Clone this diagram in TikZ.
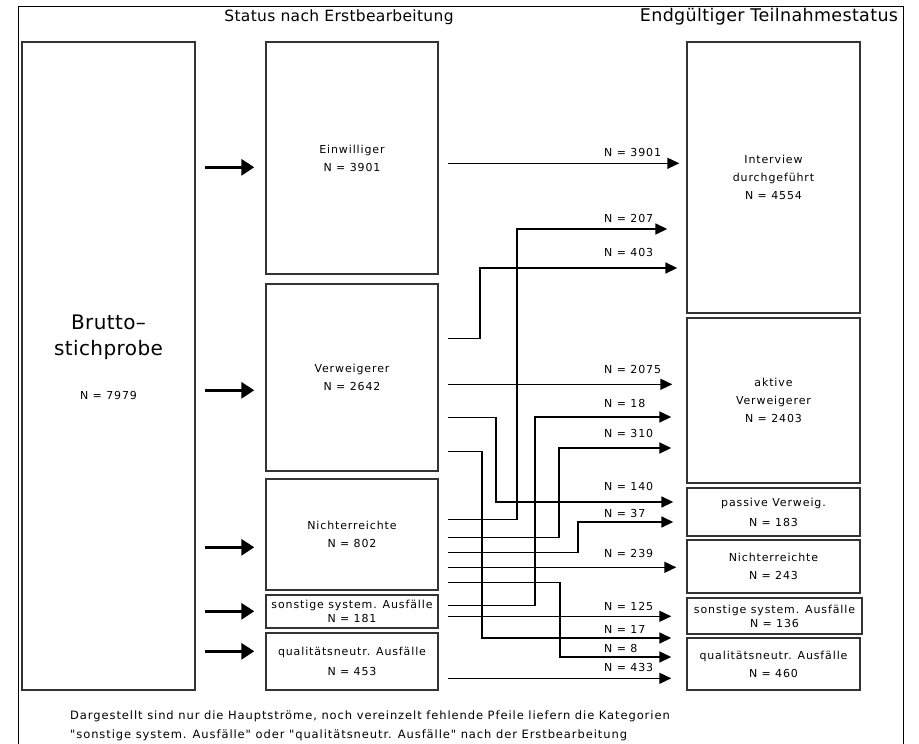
\documentclass[tikz,border=0pt]{standalone}
\usepackage{fontspec}
\setmainfont{DejaVu Sans}[LetterSpace=8, Ligatures=TeXOff]
\newfontfamily\headfont{DejaVu Sans}[LetterSpace=2, Ligatures=TeXOff]
\usetikzlibrary{calc,arrows.meta}

\tikzset{
  box/.style={draw=black!80, line width=1.4pt, inner sep=0pt, align=center,
    font=\fontsize{11}{18}\selectfont},
  head/.style={inner sep=0pt, font=\headfont\fontsize{15.5}{18}\selectfont},
  flow/.style={line width=1.6pt, -{Triangle[length=12pt,width=11pt]}},
  feed/.style={line width=3.5pt, -{Triangle[length=13pt,width=16pt]}},
  lbl/.style={anchor=west, inner sep=0pt, font=\fontsize{11}{13}\selectfont},
  note/.style={anchor=west, inner sep=0pt, align=left, font=\fontsize{11.5}{19}\selectfont},
}

\begin{document}
\begin{tikzpicture}[x=1pt, y=-1pt]
		%%%%% START %%%%%
		\useasboundingbox (0,0) rectangle (919,744);
		\draw[line width=1pt] (18,744) -- (18,6) -- (903,6) -- (903,744);
		
		\node[head] (hmid) at (339,17) {Status nach Erstbearbeitung};
		\node[head, font=\headfont\fontsize{17.5}{20}\selectfont] (hend) at (769,17) {Endgültiger Teilnahmestatus};
		
		% gross sample
		\node[box, minimum width=173pt, minimum height=648pt] (brutto) at (108.5,366) {};
		\node[align=center, inner sep=0pt, font=\headfont\fontsize{20}{26}\selectfont, yshift=9pt] (bruttotxt) at (brutto.center)
		  {Brutto–\\stichprobe\\[18pt]
		   {\normalfont\fontsize{11}{18}\selectfont N = 7979}};
		
		% status after first processing
		\node[box, minimum width=172pt, minimum height=232pt] (ein) at (352,158) {Einwilliger\\N = 3901};
		\node[box, minimum width=172pt, minimum height=187pt] (verw) at (352,377.5) {Verweigerer\\N = 2642};
		\node[box, minimum width=172pt, minimum height=111pt] (nie) at (352,534.5) {Nichterreichte\\N = 802};
		\node[box, minimum width=172pt, minimum height=33pt, font=\fontsize{11}{13.5}\selectfont] (son) at (352,611.5) {sonstige system. Ausfälle\\N = 181};
		\node[box, minimum width=172pt, minimum height=57pt, font=\fontsize{11}{20}\selectfont] (qual) at (352,661.5) {qualitätsneutr. Ausfälle\\N = 453};
		
		% final status
		\node[box, minimum width=173pt, minimum height=271pt] (int) at (773.5,177.5) {Interview\\durchgeführt\\N = 4554};
		\node[box, minimum width=173pt, minimum height=165pt] (akt) at (773.5,400.5) {aktive\\Verweigerer\\N = 2403};
		\node[box, minimum width=173pt, minimum height=48pt, font=\fontsize{11}{20}\selectfont] (pas) at (773.5,512) {passive Verweig.\\N = 183};
		\node[box, minimum width=173pt, minimum height=53pt] (nie2) at (773.5,566.5) {Nichterreichte\\N = 243};
		\node[box, minimum width=175pt, minimum height=36pt, font=\fontsize{11}{14}\selectfont] (son2) at (774.5,616) {sonstige system. Ausfälle\\N = 136};
		\node[box, minimum width=173pt, minimum height=52pt] (qual2) at (773.5,664) {qualitätsneutr. Ausfälle\\N = 460};
		
		%%%%% feeding arrows %%%%%
		\draw[feed, shorten >=11pt] ($(brutto.north east)+(9,126)$) coordinate (b1) -- (ein.west |- b1);
		\draw[feed, shorten >=11pt] ($(brutto.north east)+(9,349)$) coordinate (b2) -- (verw.west |- b2);
		\draw[feed, shorten >=11pt] ($(brutto.north east)+(9,506)$) coordinate (b3) -- (nie.west |- b3);
		\draw[feed, shorten >=11pt] ($(brutto.north east)+(9,570)$) coordinate (b4) -- (son.west |- b4);
		\draw[feed, shorten >=11pt] ($(brutto.north east)+(9,610)$) coordinate (b5) -- (qual.west |- b5);
		
		%%%%% flows %%%%%
		\draw[flow, shorten >=7pt] ($(ein.north east)+(9,122)$) coordinate (f1) -- (int.west |- f1);
		\draw[flow, shorten >=9pt] ($(verw.north east)+(9,55)$) -| (480,268) coordinate (f2) -- (int.west |- f2);
		\draw[flow, shorten >=19pt] ($(nie.north east)+(9,41)$) -| (517,229) coordinate (f3) -- (int.west |- f3);
		\draw[flow, shorten >=14pt] ($(verw.north east)+(9,101)$) coordinate (f4) -- (akt.west |- f4);
		\draw[flow, shorten >=15pt] ($(son.north east)+(9,11)$) -| (535,417) coordinate (f5) -- (akt.west |- f5);
		\draw[flow, shorten >=15pt] ($(nie.north east)+(9,59)$) -| (559,448) coordinate (f6) -- (akt.west |- f6);
		\draw[flow, shorten >=13pt] ($(verw.north east)+(9,134)$) -| (496,502) coordinate (f7) -- (pas.west |- f7);
		\draw[flow, shorten >=13pt] ($(nie.north east)+(9,74)$) -| (578,522) coordinate (f8) -- (pas.west |- f8);
		\draw[flow, shorten >=10pt] ($(nie.north east)+(9,89)$) coordinate (f9) -- (nie2.west |- f9);
		\draw[flow, shorten >=15pt] ($(son.north east)+(9,22)$) coordinate (f10) -- (son2.west |- f10);
		\draw[flow, shorten >=15pt] ($(verw.north east)+(9,168)$) -| (482,638) coordinate (f11) -- (qual2.west |- f11);
		\draw[flow, shorten >=15pt] ($(nie.north east)+(9,104)$) -| (560,657) coordinate (f12) -- (qual2.west |- f12);
		\draw[flow, shorten >=15pt] ($(qual.north east)+(9,46)$) coordinate (f13) -- (qual2.west |- f13);
		
		\node[lbl] (l3901) at (604,152) {N = 3901};
		\node[lbl] (l207) at (604,218) {N = 207};
		\node[lbl] (l403) at (604,252) {N = 403};
		\node[lbl] (l2075) at (604,369) {N = 2075};
		\node[lbl] (l18) at (604,403) {N = 18};
		\node[lbl] (l310) at (604,433) {N = 310};
		\node[lbl] (l140) at (604,486) {N = 140};
		\node[lbl] (l37) at (604,513) {N = 37};
		\node[lbl] (l239) at (604,553) {N = 239};
		\node[lbl] (l125) at (604,606) {N = 125};
		\node[lbl] (l17) at (604,629) {N = 17};
		\node[lbl] (l8) at (604,648) {N = 8};
		\node[lbl] (l433) at (604,667) {N = 433};
		
		\node[note] (note) at (70,725.5) {Dargestellt sind nur die Hauptströme, noch vereinzelt fehlende Pfeile liefern die Kategorien\\"sonstige system. Ausfälle" oder "qualitätsneutr. Ausfälle" nach der Erstbearbeitung};
		%%%%% END %%%%%
\end{tikzpicture}
\end{document}
